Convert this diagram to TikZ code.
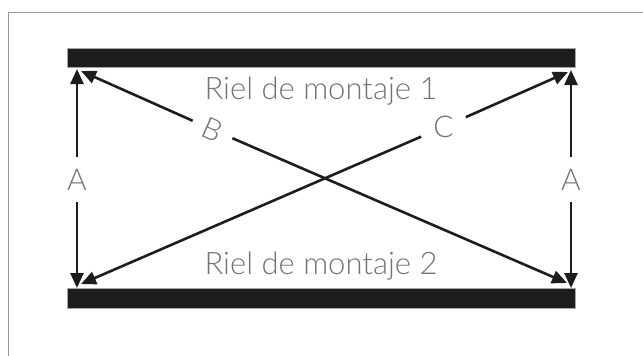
\documentclass[tikz,border=0pt]{standalone}
\usepackage{fontspec}
\setmainfont{Lato Light}
\usepackage{tikz}
\usetikzlibrary{arrows.meta}
\definecolor{noir}{RGB}{29,29,27}
\definecolor{gristexte}{RGB}{115,115,115}
\tikzset{
  rail/.style={fill=noir,draw=gray!70,line width=0.6pt,inner sep=0pt,minimum width=508pt},
  fleche/.style={draw=noir,line width=2.6pt,-{Triangle[length=15pt,width=13pt]},shorten >=0pt},
  lettre/.style={text=gristexte,font=\fontsize{30}{32}\selectfont,inner sep=12pt},
  titre/.style={text=gristexte,font=\fontsize{31}{34}\selectfont,inner sep=0pt}
}
\begin{document}
\begin{tikzpicture}[x=1pt,y=-1pt]
\useasboundingbox (0,0) rectangle (643,356);
%					Tracé du cadre :
					\draw[gray!80,line width=0.9pt] (8,356) |- (643,12);
%					Tracé des rails :
					\node[rail,minimum height=19pt] (rail1) at (321,57.5) {};
					\node[rail,minimum height=20pt] (rail2) at (321,298) {};
					\node[titre] (riel1) at (321,91) {Riel de montaje 1};
					\node[titre] (riel2) at (321,266) {Riel de montaje 2};
%					Extrémités des flèches :
					\coordinate (hg) at (77,69);
					\coordinate (bg) at (77,288);
					\coordinate (hd) at (571,70);
					\coordinate (bd) at (571,288);
					\coordinate (hgd) at (81,71);
					\coordinate (bdd) at (567,283);
					\coordinate (bgd) at (81,284);
					\coordinate (hdd) at (568,72);
%					Cotes :
					\node[lettre] (Ag) at (77,179.5) {A};
					\node[lettre] (Ad) at (571,179.5) {A};
					\node[lettre,rotate=-24] (B) at (212.5,129.6) {B};
					\node[lettre] (C) at (443.5,127) {C};
					\draw[fleche] (Ag) -- (hg);
					\draw[fleche] (Ag) -- (bg);
					\draw[fleche] (Ad) -- (hd);
					\draw[fleche] (Ad) -- (bd);
					\draw[fleche] (B) -- (hgd);
					\draw[fleche] (B) -- (bdd);
					\draw[fleche] (C) -- (bgd);
					\draw[fleche] (C) -- (hdd);
\end{tikzpicture}
\end{document}
